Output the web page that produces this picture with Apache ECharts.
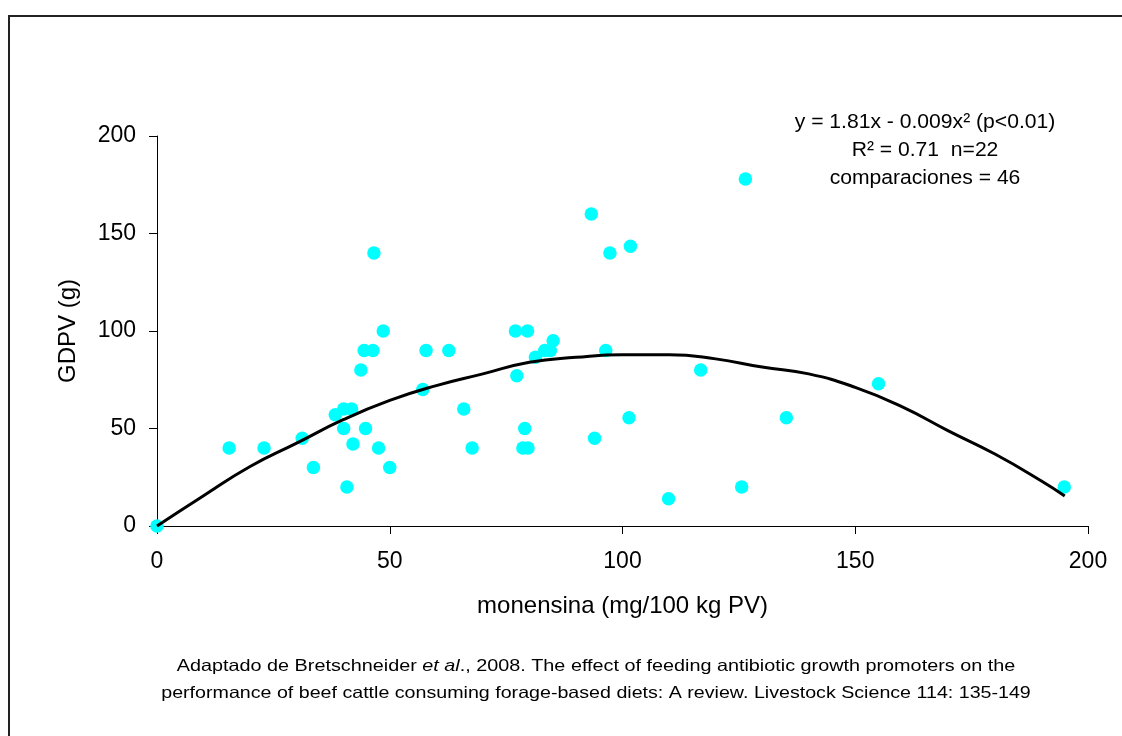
<!DOCTYPE html>
<html>
<head>
<meta charset="utf-8">
<script src="https://cdn.jsdelivr.net/npm/echarts@6/dist/echarts.min.js"></script>
<style>
  html, body { margin: 0; padding: 0; background: #fff; }
  #chart { width: 1122px; height: 736px; }
</style>
</head>
<body>
<div id="chart"></div>
<script>
'use strict';

// monensina dose (mg/100 kg PV) vs GDPV (g)
const doseX = [0, 15.5, 23, 31.2, 33.6, 40.8, 38.3, 40.1, 41.8, 40.1, 42.1, 43.8, 44.5, 46.4,
  46.6, 48.6, 44.8, 47.6, 50, 57.1, 57.8, 62.7, 65.9, 67.7, 77, 79.6, 77.3, 81.3, 83.3, 84.5,
  85.1, 79, 78.6, 79.7, 93.3, 97.3, 101.7, 96.4, 94, 101.4, 109.9, 116.8, 125.6, 126.4, 135.2,
  155, 194.9];
const gainY = [0, 40, 40, 45, 30, 20, 57, 60, 60, 50, 42, 80, 90, 90,
  140, 100, 50, 40, 30, 70, 90, 90, 60, 40, 100, 100, 77, 86.5, 90, 90,
  95, 50, 40, 40, 160, 140, 143.5, 90, 45, 55.5, 14, 80, 20, 178, 55.5,
  73, 20];

// fitted curve
const curveX = [0, 10, 20, 30, 40, 50, 60, 70, 80, 90, 100, 110, 120, 130, 140, 150, 160, 170, 180, 190, 195];
const curveY = [0, 15.5, 30.5, 42.5, 54.5, 64.4, 72, 78, 84, 86.5, 87.8, 87.8, 85.7, 81.5, 78, 71.1, 61.2, 48.8, 36.9, 23.1, 15.4];

const eqLines = ['y = 1.81x - 0.009x² (p<0.01)', 'R² = 0.71  n=22', 'comparaciones = 46'];
const FONT = '"Liberation Sans", Arial, sans-serif';

const chart = echarts.init(document.getElementById('chart'), null, { renderer: 'canvas' });

const points = doseX.map((x, i) => [x, gainY[i]]);
const curve = curveX.map((x, i) => [x, curveY[i]]);

const axisCommon = {
  type: 'value',
  min: 0,
  max: 200,
  interval: 50,
  nameLocation: 'middle',
  nameTextStyle: { fontFamily: FONT, fontSize: 24, color: '#000' },
  axisLine: { show: true, lineStyle: { color: '#000', width: 1 } },
  axisTick: { show: true, inside: false, length: 8, lineStyle: { color: '#000' } },
  splitLine: { show: false },
  axisLabel: { fontFamily: FONT, fontSize: 23, color: '#000' }
};

// caption text is drawn a bit stretched in the original
const capStyle = { fontFamily: FONT, fontSize: 16.5, color: '#000' };

chart.setOption({
  backgroundColor: '#fff',
  animation: false,
  grid: { left: 157, right: 34, top: 136, bottom: 210 },
  xAxis: {
    ...axisCommon,
    name: 'monensina (mg/100 kg PV)',
    nameGap: 68,
    axisLabel: { ...axisCommon.axisLabel, margin: 24 }
  },
  yAxis: {
    ...axisCommon,
    name: 'GDPV (g)',
    nameGap: 77,
    axisLabel: { ...axisCommon.axisLabel, margin: 21 }
  },
  graphic: [
    {
      type: 'rect',
      silent: true,
      shape: { x: 9, y: 16, width: 1300, height: 900 },
      style: { fill: null, stroke: '#222', lineWidth: 2 }
    },
    ...eqLines.map((t, i) => ({
      type: 'text',
      silent: true,
      x: 925,
      y: 122 + i * 28,
      scaleX: 1.03,
      style: {
        text: t,
        font: '20.5px ' + FONT,
        fill: '#000',
        textAlign: 'center',
        textVerticalAlign: 'middle'
      }
    })),
    {
      type: 'text',
      silent: true,
      x: 596,
      y: 666,
      scaleX: 1.2,
      style: {
        text: '{n|Adaptado de Bretschneider }{i|et al}{n|., 2008. The effect of feeding antibiotic growth promoters on the}',
        textAlign: 'center',
        textVerticalAlign: 'middle',
        rich: {
          n: capStyle,
          i: { ...capStyle, fontStyle: 'italic' }
        }
      }
    },
    {
      type: 'text',
      silent: true,
      x: 596,
      y: 693,
      scaleX: 1.19,
      style: {
        text: 'performance of beef cattle consuming forage-based diets: A review. Livestock Science 114: 135-149',
        font: '16.5px ' + FONT,
        fill: '#000',
        textAlign: 'center',
        textVerticalAlign: 'middle'
      }
    }
  ],
  series: [
    {
      type: 'scatter',
      data: points,
      symbol: 'circle',
      symbolSize: 13.5,
      itemStyle: { color: '#00FFFF', opacity: 1 },
      z: 2
    },
    {
      type: 'line',
      data: curve,
      smooth: true,
      showSymbol: false,
      lineStyle: { color: '#000', width: 3 },
      z: 3
    }
  ]
});
</script>
</body>
</html>
